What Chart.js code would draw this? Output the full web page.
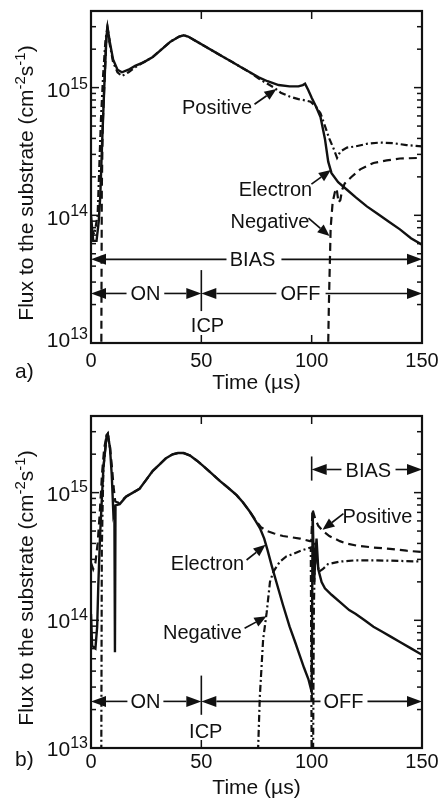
<!DOCTYPE html>
<html>
<head>
<meta charset="utf-8">
<script src="https://cdn.jsdelivr.net/npm/chart.js@4/dist/chart.umd.min.js"></script>
<style>
  html, body { margin: 0; padding: 0; background: #fff; }
  canvas { display: block; }
</style>
</head>
<body>
<canvas id="chartA" width="442" height="400"></canvas>
<canvas id="chartB" width="442" height="400"></canvas>
<script>
// ---- Axis ranges and ticks ----
const timeTicks = [0, 50, 100, 150];
const fluxDecades = [13, 14, 15];          // exponents of the labelled decades
const fluxTopExponent = 15.6;

// ---- Panel a) : flux exponents (log10 of cm^-2 s^-1) against time in microseconds ----
const electronA = [
  [0, 14.0], [1, 13.8], [2.5, 13.8], [3.5, 13.95], [4.2, 14.15], [5, 14.55], [6, 15.0], [7, 15.4],
  [7.5, 15.47], [8.5, 15.36], [10, 15.22], [12, 15.14], [14, 15.12], [17, 15.14], [20, 15.17],
  [24, 15.2], [28, 15.24], [32, 15.3], [36, 15.36], [40, 15.4], [42, 15.41], [44, 15.4], [48, 15.36],
  [52, 15.32], [56, 15.28], [60, 15.24], [64, 15.2], [68, 15.16], [72, 15.12], [76, 15.08],
  [80, 15.05], [85, 15.02], [90, 15.01], [94, 15.01], [96, 15.02], [97, 15.03], [98.5, 14.98],
  [100, 14.92], [102, 14.85], [104, 14.77], [106, 14.6], [107.5, 14.42], [109, 14.33], [112, 14.26],
  [116, 14.2], [120, 14.14], [125, 14.07], [130, 14.01], [135, 13.95], [140, 13.89], [145, 13.82],
  [150, 13.77]
];
const positiveA = [
  [0, 13.9], [1.5, 13.85], [3, 14.0], [3.6, 14.3], [4.5, 14.75], [5.5, 15.1], [6.5, 15.36],
  [7.3, 15.46], [8.5, 15.34], [10, 15.2], [12, 15.12], [14, 15.09], [17, 15.12], [20, 15.16],
  [24, 15.2], [28, 15.24], [32, 15.3], [36, 15.36], [40, 15.4], [42, 15.41], [44, 15.4], [48, 15.36],
  [52, 15.32], [56, 15.28], [60, 15.24], [64, 15.2], [68, 15.16], [72, 15.12], [76, 15.07],
  [80, 15.03], [83, 15.0], [86, 14.96], [90, 14.93], [94, 14.91], [97, 14.9], [99.5, 14.89],
  [102, 14.85], [104, 14.8], [106, 14.7], [108, 14.6], [110, 14.52], [111.5, 14.45], [113, 14.5],
  [116, 14.53], [120, 14.54], [125, 14.56], [131, 14.57], [137, 14.565], [143, 14.55], [150, 14.54]
];
const negativeA = [
  [4.6, 12.5], [4.9, 14.2], [5.3, 14.7], [6, 15.0], [7, 15.4], [7.5, 15.47], [8.5, 15.36], [9, null],
  [107, 12.5], [107.8, 13.3], [108.6, 13.9], [109.5, 14.1], [110.5, 14.18], [111.3, 14.21],
  [112.2, 14.1], [113, 14.12], [113.8, 14.2], [115, 14.25], [118, 14.3], [122, 14.36], [128, 14.41],
  [134, 14.43], [140, 14.445], [150, 14.45]
];

// ---- Panel b) ----
const electronB = [
  [0, 14.05], [0.5, 13.8], [2, 13.78], [2.8, 13.95], [3.3, 14.27], [4.1, 14.66], [5.6, 15.19],
  [7.1, 15.45], [7.6, 15.46], [8.6, 15.35], [9.4, 15.14], [10.1, 14.85], [10.6, 14.9], [10.85, 13.75],
  [11.1, 14.9], [13, 14.91], [16, 14.97], [19, 15.0], [22, 15.03], [25, 15.1], [28, 15.17],
  [31, 15.22], [34, 15.27], [37, 15.3], [39.4, 15.31], [42, 15.31], [44.9, 15.29], [48, 15.25],
  [50.8, 15.21], [54, 15.16], [58.5, 15.09], [62, 15.04], [66, 14.98], [69, 14.92], [72, 14.85],
  [74.5, 14.78], [76.6, 14.72], [78.5, 14.64], [80, 14.55], [82, 14.42], [84, 14.3], [87, 14.12],
  [90, 13.95], [92.5, 13.83], [94.7, 13.72], [96.5, 13.63], [98.5, 13.54], [100, 13.44],
  [100.45, 14.85], [101.1, 14.3], [102.2, 14.64], [103, 14.4], [104.5, 14.3], [106, 14.25],
  [109, 14.2], [113, 14.14], [117, 14.08], [120, 14.05], [124, 14.0], [128, 13.95], [132, 13.91],
  [136, 13.87], [140, 13.83], [145, 13.78], [150, 13.73]
];
const positiveB = [
  [0, 14.45], [1, 14.4], [2, 14.45], [3, 14.6], [4, 14.85], [5, 15.15], [6, 15.35], [7, 15.44],
  [7.6, 15.46], [8.6, 15.36], [9.5, 15.2], [10.2, 15.05], [11, 14.93], [12.5, 14.92], [16, 14.97],
  [19, 15.0], [22, 15.03], [25, 15.1], [28, 15.17], [31, 15.22], [34, 15.27], [37, 15.3],
  [39.4, 15.31], [42, 15.31], [44.9, 15.29], [48, 15.25], [50.8, 15.21], [54, 15.16], [58.5, 15.09],
  [62, 15.04], [66, 14.98], [69, 14.92], [72, 14.85], [74.8, 14.78], [77, 14.73], [79.6, 14.7],
  [83, 14.68], [87, 14.66], [91, 14.65], [94.7, 14.64], [99.2, 14.62], [99.8, 14.62], [100.4, 14.87],
  [101.5, 14.8], [103, 14.74], [105, 14.7], [108, 14.66], [112.8, 14.62], [116, 14.6],
  [120.4, 14.585], [128, 14.57], [135.5, 14.56], [143, 14.545], [150, 14.535]
];
const negativeB = [
  [4.6, 12.5], [4.9, 14.55], [5.6, 15.19], [7.1, 15.45], [7.6, 15.46], [8.6, 15.35], [9, null],
  [74.8, 12.5], [76.5, 13.4], [78, 13.85], [79.6, 14.06], [81.1, 14.3], [82.6, 14.38], [85.6, 14.46],
  [88.5, 14.5], [91.7, 14.52], [95, 14.545], [97.7, 14.56], [99.6, 14.57], [100.1, 12.5],
  [100.5, 12.5], [101, 14.1], [101.6, 14.62], [102.4, 14.48], [103.3, 14.38], [105, 14.4],
  [107.4, 14.44], [110, 14.45], [112.8, 14.46], [120, 14.47], [128, 14.47], [140, 14.465],
  [150, 14.46]
];

// ---- Drawing helpers ----
const INK = '#111';
const FONT = '"Liberation Sans", Arial, Helvetica, sans-serif';
const SOLID = [];
const DASHED = [8, 5];
const DASH_DOT = [7, 3, 2, 3];

function setFont(ctx, size) { ctx.font = size + 'px ' + FONT; }

function richWidth(ctx, parts) {
  let w = 0;
  parts.forEach(p => { setFont(ctx, p.size); w += ctx.measureText(p.text).width; });
  return w;
}

function drawRich(ctx, parts, x, y, align) {
  const w = richWidth(ctx, parts);
  let cx = align === 'right' ? x - w : align === 'center' ? x - w / 2 : x;
  ctx.textAlign = 'left';
  ctx.textBaseline = 'alphabetic';
  parts.forEach(p => {
    setFont(ctx, p.size);
    ctx.fillText(p.text, cx, y - (p.rise || 0));
    cx += ctx.measureText(p.text).width;
  });
}

function seg(ctx, x1, y1, x2, y2) {
  ctx.beginPath(); ctx.moveTo(x1, y1); ctx.lineTo(x2, y2); ctx.stroke();
}

function arrow(ctx, x1, y1, x2, y2, len, half) {
  const ang = Math.atan2(y2 - y1, x2 - x1);
  const bx = x2 - len * Math.cos(ang), by = y2 - len * Math.sin(ang);
  seg(ctx, x1, y1, bx, by);
  ctx.beginPath();
  ctx.moveTo(x2, y2);
  ctx.lineTo(bx + half * Math.sin(ang), by - half * Math.cos(ang));
  ctx.lineTo(bx - half * Math.sin(ang), by + half * Math.cos(ang));
  ctx.closePath();
  ctx.fill();
}

function decoPlugin(deco) {
  return {
    id: 'panelDeco',
    afterDatasetsDraw(chart) {
      const ctx = chart.ctx, xs = chart.scales.x, ys = chart.scales.y, a = chart.chartArea;
      const X = t => xs.getPixelForValue(t);
      const Y = e => ys.getPixelForValue(Math.pow(10, e));
      ctx.save();
      ctx.strokeStyle = INK; ctx.fillStyle = INK; ctx.setLineDash([]);

      // frame
      ctx.lineWidth = 2.2;
      ctx.strokeRect(a.left, a.top, a.right - a.left, a.bottom - a.top);

      // inward log ticks on both vertical sides
      ctx.lineWidth = 1.5;
      fluxDecades.forEach(d => {
        for (let m = 1; m <= 9; m++) {
          const v = m * Math.pow(10, d);
          if (v <= ys.min * 1.0001 || v >= ys.max) continue;
          const y = ys.getPixelForValue(v);
          const len = m === 1 ? 8 : 5;
          seg(ctx, a.left, y, a.left + len, y);
          seg(ctx, a.right, y, a.right - len, y);
        }
      });
      // inward time ticks top and bottom
      timeTicks.forEach(t => {
        if (t <= xs.min || t >= xs.max) return;
        seg(ctx, X(t), a.bottom, X(t), a.bottom - 8);
        seg(ctx, X(t), a.top, X(t), a.top + 8);
      });

      // tick labels
      timeTicks.forEach(t => drawRich(ctx, [{ text: String(t), size: 20 }], X(t), deco.xLabelBaseline, 'center'));
      fluxDecades.forEach(d => {
        drawRich(ctx, [{ text: '10', size: 21 }, { text: String(d), size: 16, rise: 8.5 }],
          a.left - 3, Y(d) + deco.yLabelShift[d], 'right');
      });

      // axis titles
      drawRich(ctx, [{ text: 'Time (\u00b5s)', size: 21 }], (a.left + a.right) / 2, deco.xTitleBaseline, 'center');
      ctx.save();
      ctx.translate(deco.yTitleX, (a.top + a.bottom) / 2 + 6);
      ctx.rotate(-Math.PI / 2);
      drawRich(ctx, [
        { text: 'Flux to the substrate (cm', size: 21 },
        { text: '-2', size: 15, rise: 8 },
        { text: 's', size: 21 },
        { text: '-1', size: 15, rise: 8 },
        { text: ')', size: 21 }
      ], 0, 0, 'center');
      ctx.restore();

      // panel letter
      drawRich(ctx, [{ text: deco.letter, size: 21 }], 15, deco.letterBaseline, 'left');

      // curve names with pointer arrows
      ctx.lineWidth = 1.7;
      deco.names.forEach(n => {
        drawRich(ctx, [{ text: n.text, size: 20 }], X(n.at[0]), Y(n.at[1]) + 7, 'center');
        arrow(ctx, X(n.from[0]), Y(n.from[1]), X(n.to[0]), Y(n.to[1]), 12, 5);
      });

      // interval markers (double-headed spans broken by their label)
      ctx.lineWidth = 1.6;
      deco.spans.forEach(s => {
        const y = Y(s.level);
        arrow(ctx, X(s.gap[0]), y, X(s.from), y, 15, 5.5);
        arrow(ctx, X(s.gap[1]), y, X(s.to), y, 15, 5.5);
        drawRich(ctx, [{ text: s.text, size: 20 }], X(s.textAt), y + 7, 'center');
      });
      deco.bars.forEach(b => {
        seg(ctx, X(b.at), Y(b.low), X(b.at), Y(b.high));
        if (b.text) drawRich(ctx, [{ text: b.text, size: 20 }], X(b.textAt[0]), Y(b.textAt[1]) + 7, 'center');
      });

      ctx.restore();
    }
  };
}

function lineSet(points, dash, width) {
  return {
    data: points.map(p => ({ x: p[0], y: p[1] === null ? null : Math.pow(10, p[1]) })),
    borderColor: INK,
    borderWidth: width,
    borderDash: dash,
    pointRadius: 0,
    tension: 0,
    fill: false,
    spanGaps: false
  };
}

function makeChart(id, sets, padding, deco) {
  return new Chart(document.getElementById(id), {
    type: 'line',
    data: { datasets: sets },
    options: {
      responsive: false,
      animation: false,
      devicePixelRatio: 1,
      layout: { padding: padding },
      plugins: { legend: { display: false }, tooltip: { enabled: false } },
      scales: {
        x: { type: 'linear', display: false, min: 0, max: 150 },
        y: { type: 'logarithmic', display: false, min: 1e13, max: Math.pow(10, fluxTopExponent) }
      }
    },
    plugins: [decoPlugin(deco)]
  });
}

// Panel a): electron solid, positive dash-dot, negative dashed
makeChart('chartA',
  [lineSet(electronA, SOLID, 2.4), lineSet(positiveA, DASH_DOT, 2.2), lineSet(negativeA, DASHED, 2.2)],
  { left: 91, right: 20, top: 11, bottom: 57 },
  {
    letter: 'a)', letterBaseline: 378, xLabelBaseline: 367, xTitleBaseline: 389, yTitleX: 33,
    yLabelShift: { 13: 4, 14: 9.5, 15: 9.5 },
    names: [
      { text: 'Positive', at: [57.1, 14.847], from: [74.1, 14.87], to: [84.05, 14.99] },
      { text: 'Electron', at: [83.6, 14.205], from: [99.9, 14.244], to: [108.7, 14.354] },
      { text: 'Negative', at: [81.1, 13.955], from: [98.55, 13.978], to: [108.1, 13.837] }
    ],
    spans: [
      { text: 'BIAS', level: 13.655, from: 0, to: 150, textAt: 73.2, gap: [61.4, 86.3] },
      { text: 'ON', level: 13.388, from: 0, to: 50, textAt: 24.7, gap: [16.1, 33.2] },
      { text: 'OFF', level: 13.388, from: 50, to: 150, textAt: 94.9, gap: [84, 106.3] }
    ],
    bars: [
      { at: 50, low: 13.25, high: 13.571, text: 'ICP', textAt: [52.8, 13.14] }
    ]
  });

// Panel b): electron solid, positive dashed, negative dash-dot
makeChart('chartB',
  [lineSet(electronB, SOLID, 2.4), lineSet(positiveB, DASHED, 2.2), lineSet(negativeB, DASH_DOT, 2.2)],
  { left: 91, right: 20, top: 16, bottom: 52 },
  {
    letter: 'b)', letterBaseline: 366, xLabelBaseline: 368, xTitleBaseline: 394, yTitleX: 33,
    yLabelShift: { 13: 8, 14: 8, 15: 8 },
    names: [
      { text: 'Positive', at: [129.8, 14.819], from: [114.4, 14.835], to: [104.9, 14.709] },
      { text: 'Electron', at: [52.8, 14.449], from: [70.5, 14.472], to: [79.1, 14.591] },
      { text: 'Negative', at: [50.5, 13.906], from: [69.6, 13.937], to: [79.5, 14.031] }
    ],
    spans: [
      { text: 'BIAS', level: 15.181, from: 100, to: 150, textAt: 125.7, gap: [113.5, 138] },
      { text: 'ON', level: 13.365, from: 0, to: 50, textAt: 24.7, gap: [16.5, 32.8] },
      { text: 'OFF', level: 13.365, from: 50, to: 150, textAt: 114.4, gap: [104, 125.3] }
    ],
    bars: [
      { at: 100, low: 15.094, high: 15.283 },
      { at: 50, low: 13.26, high: 13.567, text: 'ICP', textAt: [52, 13.134] }
    ]
  });
</script>
</body>
</html>
